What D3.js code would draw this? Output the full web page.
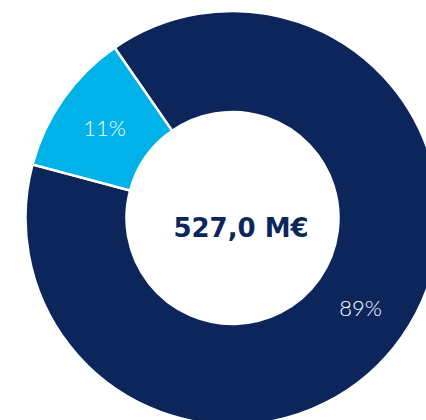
<!DOCTYPE html>
<html>
<head>
<meta charset="utf-8">
<script src="https://cdn.jsdelivr.net/npm/d3@7"></script>
<style>
html,body{margin:0;padding:0;background:#fff;overflow:hidden;}
svg{display:block;}
</style>
</head>
<body>
<svg id="chart" width="426" height="420"></svg>
<script>
const categories = ["A", "B"];
const values = [468, 59];
const labels = ["89%", "11%"];
const colors = ["#0c265c", "#00b2e8"];
const totalLabel = "527,0 M€";

const svg = d3.select("#chart");
const cx = 232.5, cy = 218;
const outerR = 207, innerR = 106;

const pie = d3.pie().sort(null).value(d => d)
  .startAngle(-34.7 * Math.PI / 180)
  .endAngle((360 - 34.7) * Math.PI / 180);
const arc = d3.arc().innerRadius(innerR).outerRadius(outerR);

const g = svg.append("g").attr("transform", `translate(${cx},${cy})`);
const arcs = pie(values);

g.selectAll("path").data(arcs).join("path")
  .attr("d", arc)
  .attr("fill", (d, i) => colors[i])
  .attr("stroke", "#fff")
  .attr("stroke-width", 2.5)
  .attr("stroke-linejoin", "miter");

g.selectAll("text.lbl").data(arcs).join("text")
  .attr("class", "lbl")
  .attr("transform", d => `translate(${arc.centroid(d)})`)
  .attr("text-anchor", "middle")
  .attr("dy", "0.36em")
  .attr("fill", "#fff")
  .style("font-family", "Lato, 'Open Sans', sans-serif")
  .style("font-weight", 300)
  .style("font-size", "22px")
  .text((d, i) => labels[i]);

g.append("text")
  .attr("x", 8.5)
  .attr("y", 19)
  .attr("text-anchor", "middle")
  .attr("fill", "#0c265c")
  .style("font-family", "'DejaVu Sans', sans-serif")
  .style("font-weight", 700)
  .style("font-size", "26px")
  .text(totalLabel);
</script>
</body>
</html>
